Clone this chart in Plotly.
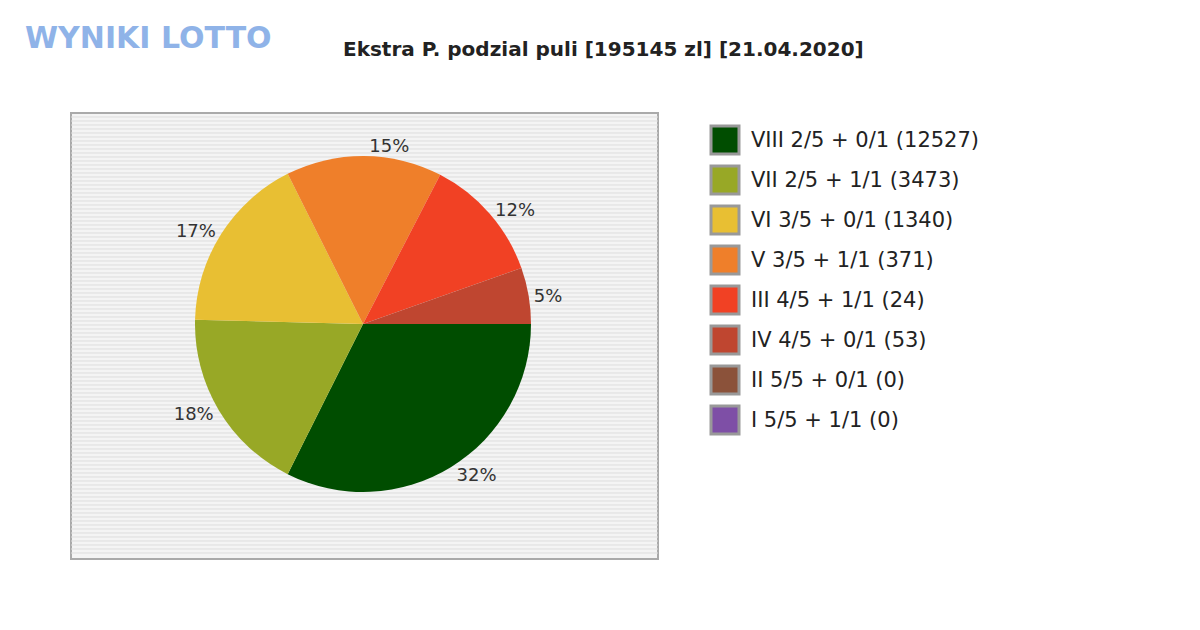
import plotly.graph_objects as go

labels = ["VIII 2/5 + 0/1 (12527)", "VII 2/5 + 1/1 (3473)", "VI 3/5 + 0/1 (1340)",
          "V 3/5 + 1/1 (371)", "III 4/5 + 1/1 (24)", "IV 4/5 + 0/1 (53)",
          "II 5/5 + 0/1 (0)", "I 5/5 + 1/1 (0)"]
shares = [32.4, 18.0, 17.2, 15.0, 12.0, 5.4, 0, 0]
colors = ["#004d00", "#98a826", "#e8bf33", "#ef7f2a", "#f14124", "#bf4630", "#8b523a", "#7e4fa6"]
title = "Ekstra P. podzial puli [195145 zl] [21.04.2020]"

W, H = 1200, 630
DX, DY = -7, -7
def px(x): return (x + DX) / W
def py(y): return 1 - (y + DY) / H

fig = go.Figure()
cx, cy, r = 362, 323, 168
fig.add_trace(go.Pie(
    values=shares[:6], labels=labels[:6], marker=dict(colors=colors[:6]),
    sort=False, direction="clockwise", rotation=90,
    textinfo="percent", texttemplate="%{percent:.0%}", textposition="outside",
    textfont=dict(family="DejaVu Sans", size=18, color="#333"),
    outsidetextfont=dict(family="DejaVu Sans", size=18, color="#333"),
    showlegend=False, hoverinfo="label+percent",
    domain=dict(x=[px(cx - r), px(cx + r)], y=[py(cy + r), py(cy - r)])))

shapes = []
x0, x1, y0, y1 = 70, 657, 112, 558
shapes.append(dict(type="rect", xref="paper", yref="paper", x0=px(x0), x1=px(x1),
                   y0=py(y1), y1=py(y0), fillcolor="#f4f4f4",
                   line=dict(color="#aaaaaa", width=2), layer="below"))
y = y0 + 4
while y < y1 - 2:
    shapes.append(dict(type="line", xref="paper", yref="paper", x0=px(x0), x1=px(x1),
                       y0=py(y), y1=py(y), line=dict(color="#dddddd", width=1), layer="below"))
    y += 4
annotations = []
for i, (lab, c) in enumerate(zip(labels, colors)):
    ly = 139 + 40 * i
    shapes.append(dict(type="rect", xref="paper", yref="paper", x0=px(710), x1=px(738),
                       y0=py(ly + 14), y1=py(ly - 14), fillcolor=c,
                       line=dict(color="#999999", width=3)))
    annotations.append(dict(text=lab, x=px(748), y=py(ly), xref="paper", yref="paper",
                            xanchor="left", yanchor="middle", showarrow=False,
                            font=dict(family="DejaVu Sans", size=21, color="#222")))
annotations.append(dict(text="<b>" + title + "</b>", x=px(602), y=py(48), xref="paper", yref="paper",
                        xanchor="center", yanchor="middle",
                        showarrow=False, font=dict(family="DejaVu Sans", size=20, color="#222")))
annotations.append(dict(text="<b>WYNIKI LOTTO</b>", x=px(22), y=py(36), xref="paper", yref="paper",
                        xanchor="left", yanchor="middle", showarrow=False,
                        font=dict(family="DejaVu Sans", size=30, color="#8fb3e8")))

fig.update_layout(width=W, height=H, margin=dict(l=0, r=0, t=0, b=0),
                  paper_bgcolor="white", shapes=shapes, annotations=annotations)
fig.write_html("out.html")
